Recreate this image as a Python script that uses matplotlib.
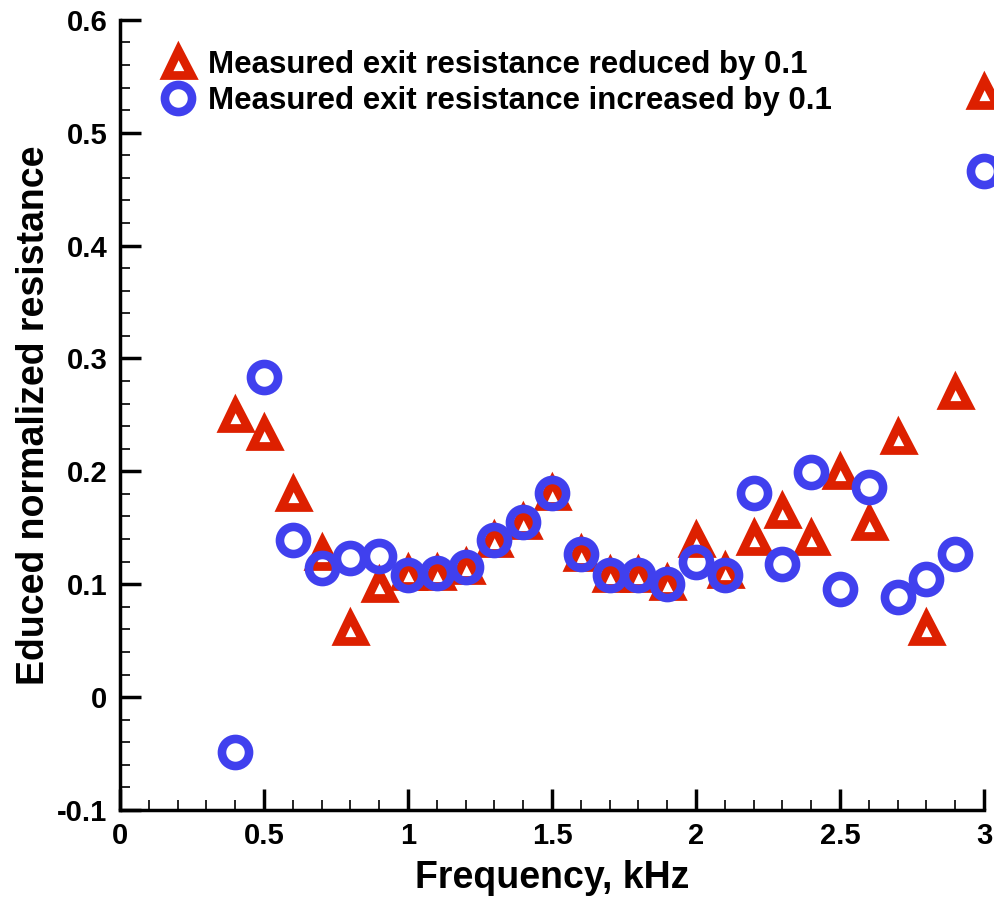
import matplotlib.pyplot as plt
from matplotlib.ticker import MultipleLocator

plt.rcParams['font.family'] = ['Liberation Sans', 'DejaVu Sans']
plt.rcParams['font.weight'] = 'bold'

freq = [0.4, 0.5, 0.6, 0.7, 0.8, 0.9, 1.0, 1.1, 1.2, 1.3, 1.4, 1.5, 1.6, 1.7,
        1.8, 1.9, 2.0, 2.1, 2.2, 2.3, 2.4, 2.5, 2.6, 2.7, 2.8, 2.9, 3.0]
res_reduced = [0.250, 0.234, 0.180, 0.128, 0.061, 0.099, 0.110, 0.110, 0.115,
               0.139, 0.155, 0.181, 0.127, 0.108, 0.108, 0.101, 0.139, 0.112,
               0.141, 0.165, 0.141, 0.199, 0.154, 0.230, 0.061, 0.270, 0.536]
res_increased = [-0.049, 0.284, 0.139, 0.114, 0.123, 0.125, 0.108, 0.110, 0.115,
                 0.139, 0.155, 0.181, 0.127, 0.108, 0.108, 0.100, 0.120, 0.108,
                 0.181, 0.118, 0.199, 0.096, 0.186, 0.089, 0.105, 0.127, 0.466]

red = '#dd2000'
blue = '#4040ee'

fig = plt.figure(figsize=(9.95, 8.99), dpi=100)
ax = fig.add_axes([0.1206, 0.099, 0.8684, 0.879])

ax.plot(freq, res_reduced, linestyle='none', marker='^', ms=18, mew=6.3,
        mfc='white', mec=red, clip_on=False,
        label='Measured exit resistance reduced by 0.1')
ax.plot(freq, res_increased, linestyle='none', marker='o', ms=19.5, mew=6.2,
        mfc='none', mec=blue, clip_on=False,
        label='Measured exit resistance increased by 0.1')

ax.set_xlim(0, 3)
ax.set_ylim(-0.1, 0.6)
ax.xaxis.set_minor_locator(MultipleLocator(0.1))
ax.yaxis.set_minor_locator(MultipleLocator(0.02))
ax.set_xticks([0, 0.5, 1, 1.5, 2, 2.5, 3])
ax.set_xticklabels(['0', '0.5', '1', '1.5', '2', '2.5', '3'])
ax.set_yticks([-0.1, 0, 0.1, 0.2, 0.3, 0.4, 0.5, 0.6])
ax.set_yticklabels(['-0.1', '0', '0.1', '0.2', '0.3', '0.4', '0.5', '0.6'])

for s in ['top', 'right']:
    ax.spines[s].set_visible(False)
for s in ['left', 'bottom']:
    ax.spines[s].set_linewidth(2.5)
ax.tick_params(which='major', direction='in', length=15, width=2.5,
               labelsize=21, pad=9)
ax.tick_params(which='minor', direction='in', length=7, width=1.2)

ax.set_xlabel('Frequency, kHz', fontsize=27, fontweight='bold', labelpad=7)
ax.set_ylabel('Educed normalized resistance', fontsize=27, fontweight='bold',
              labelpad=4)

ax.legend(loc='upper left', bbox_to_anchor=(0.035, 0.978), frameon=False,
          fontsize=22.5, handletextpad=0.45, labelspacing=0.2, borderaxespad=0,
          handlelength=1.0, markerscale=1.0)

fig.savefig('out.png', dpi=100)
